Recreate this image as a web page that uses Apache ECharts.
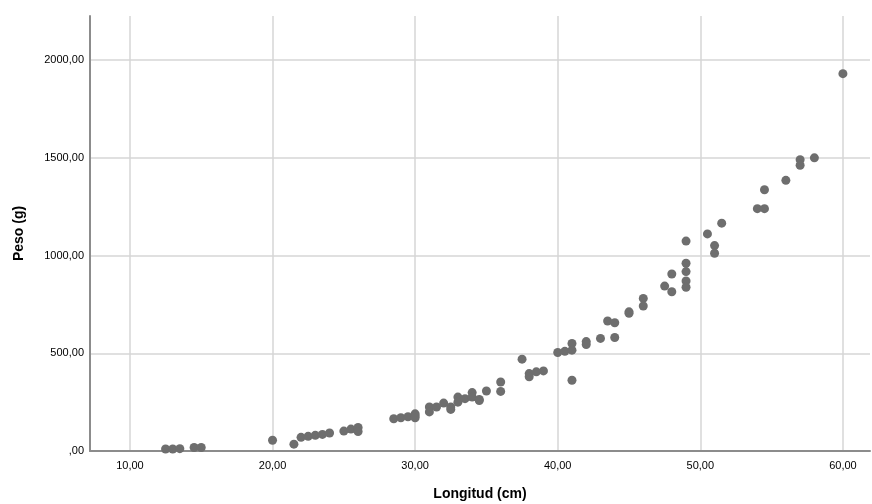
<!DOCTYPE html>
<html>
<head>
<meta charset="utf-8">
<script src="https://cdn.jsdelivr.net/npm/echarts@6/dist/echarts.min.js"></script>
<style>
html,body{margin:0;padding:0;background:#fff;}
#chart{width:872px;height:504px;}
</style>
</head>
<body>
<div id="chart"></div>
<script>
// Longitud (cm)
const longitud = [
  12.5, 13.0, 13.5, 14.5, 15.0,
  20.0, 21.5, 22.0, 22.5, 23.0, 23.5, 24.0, 25.0, 25.5, 26.0, 26.0,
  28.5, 29.0, 29.5, 30.0, 30.0, 30.0,
  31.0, 31.0, 31.5, 32.0, 32.5, 32.5, 33.0, 33.0, 33.5, 34.0, 34.0, 34.5, 34.5, 35.0,
  36.0, 36.0, 37.5, 38.0, 38.0, 38.5, 39.0,
  40.0, 40.5, 41.0, 41.0, 41.0, 42.0, 42.0, 43.0, 43.5, 44.0, 44.0,
  45.0, 45.0, 46.0, 46.0, 47.5, 48.0, 48.0,
  49.0, 49.0, 49.0, 49.0, 49.0, 50.5, 51.0, 51.0, 51.5,
  54.0, 54.5, 54.5, 56.0, 57.0, 57.0, 58.0, 60.0
];
// Peso (g)
const peso = [
  10, 10, 12, 18, 18,
  55, 35, 70, 75, 80, 85, 92, 102, 112, 120, 100,
  165, 170, 175, 190, 180, 170,
  225, 200, 225, 245, 225, 213, 276, 250, 268, 299, 276, 264, 258, 307,
  353, 305, 470, 396, 380, 405, 410,
  504, 510, 550, 516, 362, 560, 545, 576, 665, 656, 581,
  712, 705, 781, 742, 844, 906, 815,
  1074, 961, 918, 870, 838, 1111, 1051, 1012, 1166,
  1240, 1240, 1337, 1385, 1491, 1462, 1500, 1931
];
const xTicks = [10, 20, 30, 40, 50, 60];
const yTicks = [0, 500, 1000, 1500, 2000];

const points = longitud.map((v, i) => [v, peso[i]]);
const fmt = v => (v === 0 ? ',00' : v.toFixed(2).replace('.', ','));

const chart = echarts.init(document.getElementById('chart'));
chart.setOption({
  animation: false,
  backgroundColor: '#ffffff',
  grid: { left: 90, right: 2, top: 16, bottom: 53, containLabel: false, outerBoundsMode: 'none' },
  xAxis: {
    type: 'value',
    min: 7.2,
    max: 61.9,
    name: 'Longitud (cm)',
    nameLocation: 'middle',
    nameGap: 36,
    nameTextStyle: { fontFamily: 'Liberation Sans', fontSize: 14, fontWeight: 'bold', color: '#000' },
    axisLine: { show: true, lineStyle: { color: '#8c8c8c', width: 2 } },
    axisTick: { show: false, customValues: xTicks },
    axisLabel: {
      customValues: xTicks,
      formatter: fmt,
      fontFamily: 'Liberation Sans', fontSize: 11, color: '#000', margin: 9
    },
    splitLine: { show: true, lineStyle: { color: '#d6d6d6', width: 1.5 } }
  },
  yAxis: {
    type: 'value',
    min: 0,
    max: 2226,
    name: 'Peso (g)',
    nameLocation: 'middle',
    nameGap: 64,
    nameRotate: 90,
    nameTextStyle: { fontFamily: 'Liberation Sans', fontSize: 14, fontWeight: 'bold', color: '#000' },
    axisLine: { show: true, lineStyle: { color: '#8c8c8c', width: 2 } },
    axisTick: { show: false, customValues: yTicks },
    axisLabel: {
      customValues: yTicks,
      formatter: fmt,
      fontFamily: 'Liberation Sans', fontSize: 11, color: '#000', margin: 6
    },
    splitLine: { show: true, lineStyle: { color: '#d6d6d6', width: 1.5 } }
  },
  series: [{
    type: 'scatter',
    data: points,
    symbolSize: 9,
    itemStyle: { color: '#6e6e6e', opacity: 1 }
  }]
});
</script>
</body>
</html>
